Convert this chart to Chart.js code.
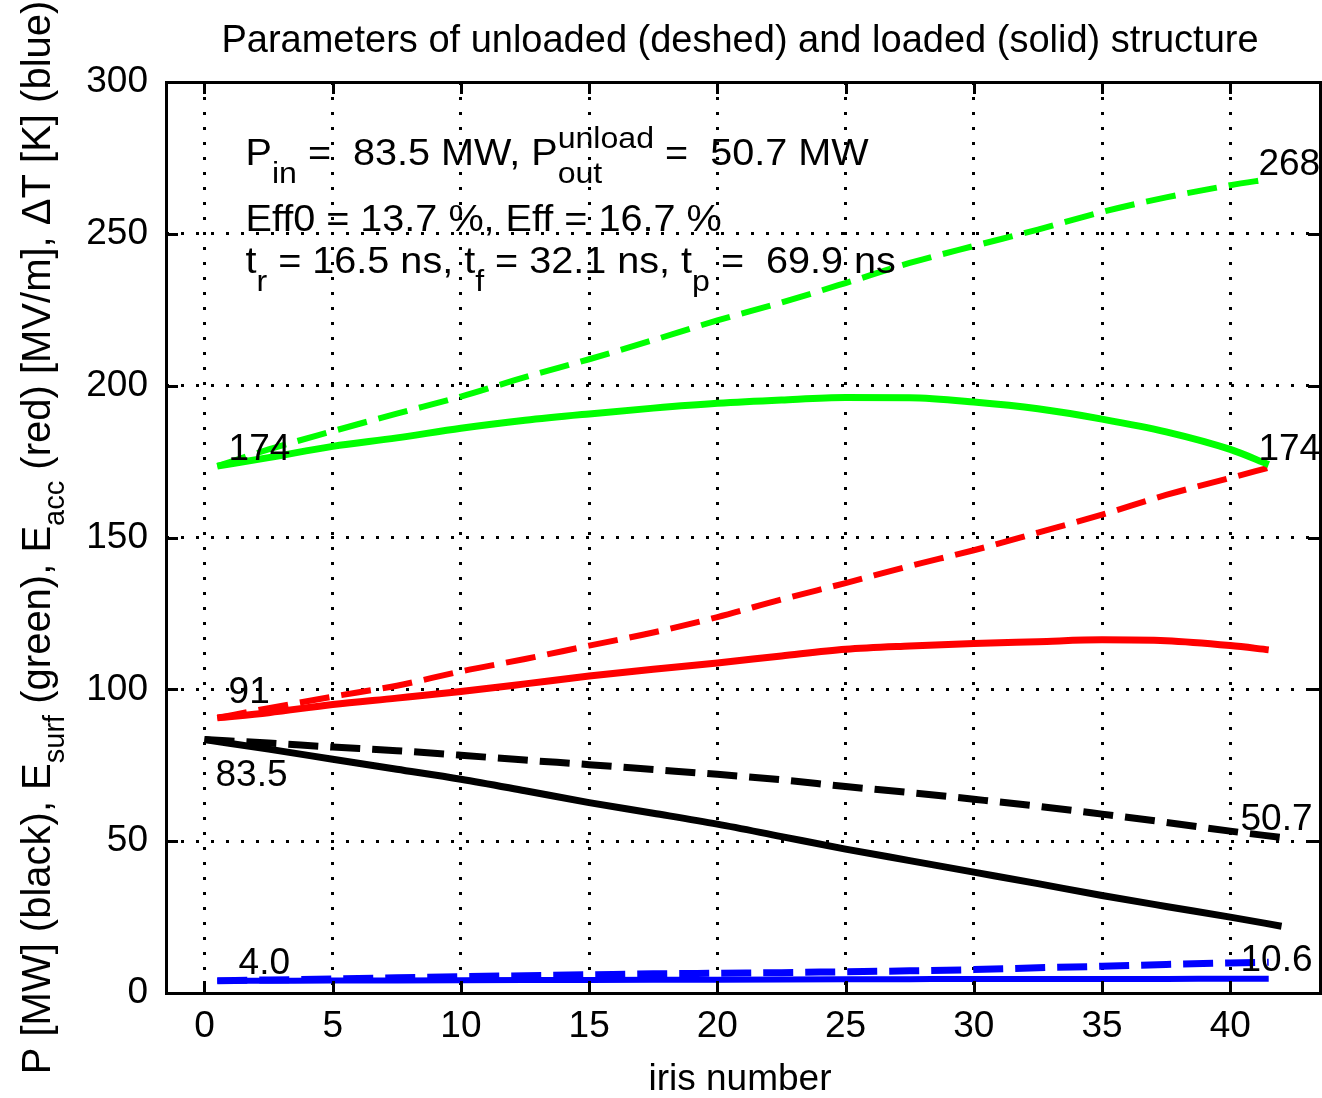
<!DOCTYPE html>
<html>
<head>
<meta charset="utf-8">
<title>Parameters of unloaded and loaded structure</title>
<script src="https://cdn.jsdelivr.net/npm/chart.js@4.4.1/dist/chart.umd.min.js"></script>
<style>
  html, body { margin: 0; padding: 0; background: #fff; }
  #wrap { width: 1322px; height: 1098px; }
</style>
</head>
<body>
<div id="wrap"><canvas id="paramsChart" width="1322" height="1098"></canvas></div>
<script>
// iris positions: fields are taken at cell centres, power at the irises
const fieldIris = [0.5, 2.5, 5, 7.5, 10, 12.5, 15, 17.5, 20, 22.5, 25, 27.5, 30, 32.5, 35, 37.5, 40, 41.5];
const powerIris = [0, 2.5, 5, 7.5, 10, 12.5, 15, 17.5, 20, 22.5, 25, 27.5, 30, 32.5, 35, 37.5, 40, 42];

const esurfUnloaded = [173.5, 179, 185, 190.8, 196.4, 202.8, 208.7, 215, 221.5, 227.4, 233.8, 240.4, 246, 251.4, 257.2, 262, 266, 268];
const esurfLoaded   = [173.5, 176.3, 180, 182.8, 186, 188.6, 190.7, 192.6, 194.2, 195.3, 196.1, 196, 194.6, 192.4, 189, 184.8, 179, 174];
const eaccUnloaded  = [90.6, 93.8, 97.6, 101.2, 105.9, 110, 114.4, 118.7, 123.8, 129.6, 135, 140.6, 145.8, 151.6, 157.5, 164, 169.6, 173];
const eaccLoaded    = [90.6, 92.3, 95, 97.1, 99.3, 101.8, 104.4, 106.6, 108.7, 111, 113.2, 114.3, 115.1, 115.7, 116.3, 116, 114.4, 113];
const powerUnloaded = [83.5, 82.3, 81.0, 79.8, 78.3, 76.7, 75.2, 73.6, 72.0, 70.2, 68.0, 66.0, 63.8, 61.5, 58.9, 56.2, 53.3, 51.2];
const powerLoaded   = [83.5, 80.3, 77.0, 73.7, 70.4, 66.6, 62.7, 59.2, 55.6, 51.5, 47.4, 43.6, 39.8, 36, 32.1, 28.5, 25.0, 22];
const dtUnloaded    = [4.0, 4.3, 4.6, 5.0, 5.4, 5.7, 6.0, 6.3, 6.5, 6.7, 7.0, 7.3, 7.7, 8.3, 8.8, 9.4, 9.9, 10.1];
const dtLoaded      = [4.0, 4.05, 4.1, 4.15, 4.2, 4.25, 4.3, 4.35, 4.4, 4.45, 4.5, 4.55, 4.6, 4.6, 4.65, 4.65, 4.7, 4.7];

const xTicks = [0, 5, 10, 15, 20, 25, 30, 35, 40];
const yTicks = [0, 50, 100, 150, 200, 250, 300];

const FONT = '"Liberation Sans", Arial, Helvetica, sans-serif';

function pts(xs, ys) {
    return xs.map(function (x, i) { return { x: x, y: ys[i] }; });
}

function line(data, color, dashed, width) {
    return {
        data: data,
        borderColor: color,
        borderWidth: width || 6,
        borderDash: dashed ? [30, 12] : [],
        borderCapStyle: 'butt',
        pointRadius: 0,
        fill: false,
        cubicInterpolationMode: 'monotone'
    };
}

// width of a string made of normal / sub / sup pieces
function runsWidth(ctx, runs, size, small) {
    let w = 0;
    runs.forEach(function (r) {
        if (typeof r === 'string') {
            ctx.font = size + 'px ' + FONT;
            w += ctx.measureText(r).width;
        } else {
            ctx.font = small + 'px ' + FONT;
            w += Math.max(r.sup ? ctx.measureText(r.sup).width : 0, r.sub ? ctx.measureText(r.sub).width : 0);
        }
    });
    return w;
}

function drawRuns(ctx, x, y, runs, size, small, up, down) {
    let cx = x;
    runs.forEach(function (r) {
        if (typeof r === 'string') {
            ctx.font = size + 'px ' + FONT;
            ctx.fillText(r, cx, y);
            cx += ctx.measureText(r).width;
        } else {
            ctx.font = small + 'px ' + FONT;
            let w = 0;
            if (r.sup) { ctx.fillText(r.sup, cx, y - up); w = Math.max(w, ctx.measureText(r.sup).width); }
            if (r.sub) { ctx.fillText(r.sub, cx, y + down); w = Math.max(w, ctx.measureText(r.sub).width); }
            cx += w;
        }
    });
}

const framePlugin = {
    id: 'frame',
    afterDraw: function (chart) {
        const ctx = chart.ctx;
        const a = chart.chartArea;
        const sx = chart.scales.x, sy = chart.scales.y;
        ctx.save();
        ctx.strokeStyle = '#000';
        ctx.lineWidth = 3;
        ctx.strokeRect(a.left + 0.5, a.top + 0.5, a.right - a.left, a.bottom - a.top);
        ctx.beginPath();
        xTicks.forEach(function (v) {
            const px = Math.round(sx.getPixelForValue(v)) + 0.5;
            ctx.moveTo(px, a.bottom); ctx.lineTo(px, a.bottom - 12);
            ctx.moveTo(px, a.top); ctx.lineTo(px, a.top + 12);
        });
        yTicks.forEach(function (v) {
            const py = Math.round(sy.getPixelForValue(v)) + 0.5;
            ctx.moveTo(a.left, py); ctx.lineTo(a.left + 12, py);
            ctx.moveTo(a.right, py); ctx.lineTo(a.right - 12, py);
        });
        ctx.stroke();
        ctx.restore();
    }
};

const textPlugin = {
    id: 'texts',
    afterDraw: function (chart) {
        const ctx = chart.ctx;
        const sx = chart.scales.x, sy = chart.scales.y;
        const a = chart.chartArea;
        ctx.save();
        ctx.fillStyle = '#000';
        ctx.textBaseline = 'alphabetic';

        // title
        ctx.textAlign = 'center';
        ctx.font = '38px ' + FONT;
        ctx.fillText('Parameters of unloaded (deshed) and loaded (solid) structure', 740, 52);

        // x axis title
        ctx.font = '37px ' + FONT;
        ctx.fillText('iris number', 740, 1090);

        // y axis title, rotated
        ctx.textAlign = 'left';
        const yl = ['P [MW] (black), E', { sub: 'surf' }, ' (green), E', { sub: 'acc' }, ' (red) [MV/m], \u0394T [K] (blue)'];
        const ylw = runsWidth(ctx, yl, 40, 29);
        ctx.save();
        ctx.translate(50, (a.top + a.bottom) / 2);
        ctx.rotate(-Math.PI / 2);
        drawRuns(ctx, -ylw / 2, 0, yl, 40, 29, 14, 14);
        ctx.restore();

        // parameter block (slightly wider glyph spacing, as in the original)
        const bx = sx.getPixelForValue(1.6);
        ctx.save();
        ctx.translate(bx, 0);
        ctx.scale(1.07, 1);
        drawRuns(ctx, 0, 165, ['P', { sub: 'in' }, ' =  83.5 MW, P', { sup: 'unload', sub: 'out' }, ' =  50.7 MW'], 37, 30, 17, 18);
        drawRuns(ctx, 0, 231, ['Eff0 = 13.7 %, Eff = 16.7 %'], 37, 30, 17, 18);
        drawRuns(ctx, 0, 273, ['t', { sub: 'r' }, ' = 16.5 ns, t', { sub: 'f' }, ' = 32.1 ns, t', { sub: 'p' }, ' =  69.9 ns'], 37, 30, 17, 18);
        ctx.restore();

        // start / end values
        ctx.font = '37px ' + FONT;
        [['174', 0.94, 175.6], ['268', 41.1, 269.4], ['174', 41.1, 175.6], ['91', 0.94, 95.6],
         ['83.5', 0.43, 68.3], ['50.7', 40.4, 53.8], ['4.0', 1.33, 6.1], ['10.6', 40.4, 7.1]].forEach(function (l) {
            ctx.fillText(l[0], sx.getPixelForValue(l[1]), sy.getPixelForValue(l[2]));
        });
        ctx.restore();
    }
};

const axisFont = { family: FONT, size: 37 };

const ctx = document.getElementById('paramsChart').getContext('2d');
const paramsChart = new Chart(ctx, {
    type: 'line',
    data: {
        datasets: [
            line(pts(fieldIris, esurfUnloaded), '#00ff00', true, 6),
            line(pts(fieldIris, esurfLoaded), '#00ff00', false, 7),
            line(pts(fieldIris, eaccUnloaded), '#ff0000', true, 6),
            line(pts(fieldIris, eaccLoaded), '#ff0000', false, 7),
            line(pts(powerIris, powerUnloaded), '#000000', true, 7),
            line(pts(powerIris, powerLoaded), '#000000', false, 7),
            line(pts(fieldIris, dtLoaded), '#0000ff', false, 6),
            line(pts(fieldIris, dtUnloaded), '#0000ff', true, 7)
        ]
    },
    options: {
        responsive: false,
        animation: false,
        layout: { padding: { top: 82, right: 2, left: 0, bottom: 0 } },
        plugins: {
            legend: { display: false },
            tooltip: { enabled: false },
            title: { display: false }
        },
        scales: {
            x: {
                type: 'linear',
                min: -1.5,
                max: 43.5,
                afterBuildTicks: function (s) { s.ticks = xTicks.map(function (v) { return { value: v }; }); },
                afterFit: function (s) { s.height = 105; },
                grid: { color: '#000', lineWidth: 3, drawTicks: false },
                border: { display: false, dash: [3, 12] },
                ticks: { font: axisFont, color: '#000', padding: 12, maxRotation: 0, autoSkip: false }
            },
            y: {
                type: 'linear',
                min: 0,
                max: 300,
                afterBuildTicks: function (s) { s.ticks = yTicks.map(function (v) { return { value: v }; }); },
                afterFit: function (s) { s.width = 166; },
                grid: { color: '#000', lineWidth: 3, drawTicks: false },
                border: { display: false, dash: [3, 12] },
                ticks: { font: axisFont, color: '#000', padding: 18 }
            }
        }
    },
    plugins: [framePlugin, textPlugin]
});
</script>
</body>
</html>
